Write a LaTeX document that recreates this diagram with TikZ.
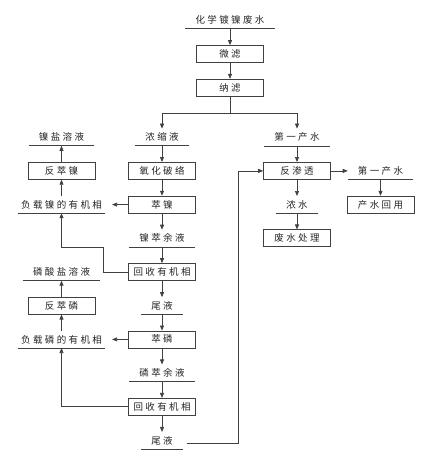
\documentclass[tikz,border=0pt]{standalone}
\usepackage{fontspec}
\newfontfamily\cjk[LetterSpace=25]{Noto Sans CJK SC}
\usetikzlibrary{arrows.meta,positioning}
\definecolor{linegray}{RGB}{64,64,64}

\begin{document}
\begin{tikzpicture}[
    node distance=33.7pt, on grid,
    box/.style={draw=linegray, line width=0.7pt, minimum width=67pt, minimum height=17pt, inner sep=1pt, font=\cjk\fontsize{9.5}{11}\selectfont, text=black!85},
    txt/.style={inner xsep=10pt, inner ysep=4pt, font=\cjk\fontsize{9.5}{11}\selectfont, text=black!85,
        append after command={(\tikzlastnode.south west) edge[draw=linegray, line width=0.6pt] (\tikzlastnode.south east)}},
    load/.style={inner xsep=3pt},
    arrow/.style={-{Triangle[length=5pt,width=4pt]}, draw=linegray, line width=0.7pt},
]
    \useasboundingbox[fill=white] (0,0) rectangle (421pt,-470pt);

    % main line
    \node[txt] (wf) at (230pt,-20pt) {化学镀镍废水};
    \node[box, below=34pt of wf] (mf) {微滤};
    \node[box, below=of mf] (nf) {纳滤};
    \node[txt, below left=49.5pt and 68pt of nf] (conc) {浓缩液};
    \node[txt, below right=49.5pt and 67pt of nf] (pw1) {第一产水};

    % concentrate side
    \node[box, below=of conc] (ox) {氧化破络};
    \node[box, below=of ox] (exni) {萃镍};
    \node[txt, below=of exni] (raffni) {镍萃余液};
    \node[box, below=of raffni] (rec1) {回收有机相};
    \node[txt, below=of rec1] (tail1) {尾液};
    \node[box, below=of tail1] (exp) {萃磷};
    \node[txt, below=of exp] (raffp) {磷萃余液};
    \node[box, below=of raffp] (rec2) {回收有机相};
    \node[txt, below=of rec2] (tail2) {尾液};

    % stripping
    \node[txt, left=100.5pt of conc] (nisalt) {镍盐溶液};
    \node[box, left=100.5pt of ox] (strip1) {反萃镍};
    \node[txt, load, left=100.5pt of exni] (loadni) {负载镍的有机相};
    \node[txt, left=100.5pt of rec1] (psalt) {磷酸盐溶液};
    \node[box, left=100.5pt of tail1] (strip2) {反萃磷};
    \node[txt, load, left=100.5pt of exp] (loadp) {负载磷的有机相};

    % permeate side
    \node[box, below=of pw1] (ro) {反渗透};
    \node[txt, below=of ro] (brine) {浓水};
    \node[box, below=of brine] (wt) {废水处理};
    \node[txt, right=83.5pt of ro] (pw2) {第一产水};
    \node[box, below=of pw2] (reuse) {产水回用};

    \draw[arrow] (wf) -- (mf);
    \draw[arrow] (mf) -- (nf);
    \draw[draw=linegray, line width=0.7pt] (nf) -- ++(0,-25.5pt) coordinate (split);
    \draw[arrow] (split) -| (conc);
    \draw[arrow] (split) -| (pw1);

    \foreach \a/\b in {conc/ox, ox/exni, exni/raffni, raffni/rec1, rec1/tail1, tail1/exp, exp/raffp,
        raffp/rec2, rec2/tail2, pw1/ro, ro/brine, brine/wt, pw2/reuse,
        loadni/strip1, strip1/nisalt, loadp/strip2, strip2/psalt}
        \draw[arrow] (\a) -- (\b);

    \draw[arrow, shorten >=7pt] (exni) -- (exni -| loadni.east);
    \draw[arrow, shorten >=7pt] (exp) -- (exp -| loadp.east);
    \draw[arrow] (rec1.west) -- ++(-25pt,0) |- ([yshift=-34pt]loadni.south) -- (loadni.south);
    \draw[arrow] (rec2) -| (loadp);
    \draw[arrow] (ro) -- (pw2);
    \draw[arrow, shorten <=4pt] ([yshift=-3pt]tail2.east) -- ++(55pt,0) |- (ro);
\end{tikzpicture}
\end{document}
